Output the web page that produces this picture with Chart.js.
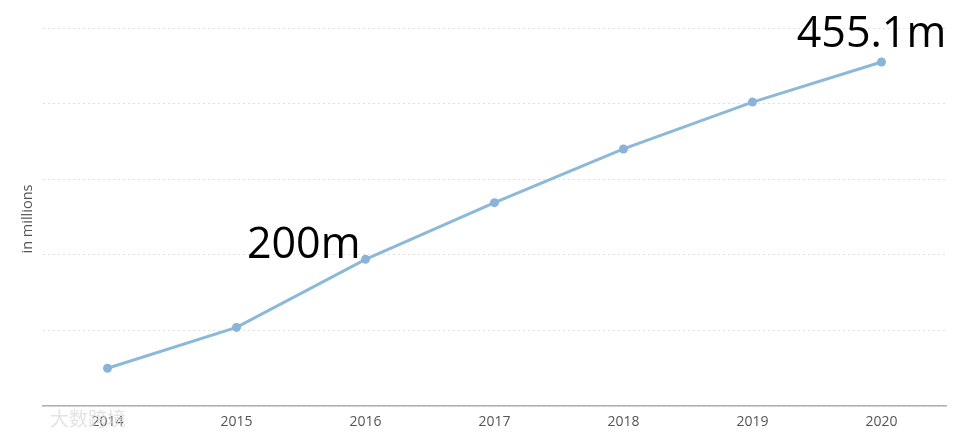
<!DOCTYPE html>
<html>
<head>
<meta charset="utf-8">
<script src="https://cdn.jsdelivr.net/npm/chart.js@4"></script>
<style>
  html, body { margin: 0; padding: 0; background: #fff; }
  #wrap { width: 962px; height: 436px; }
</style>
</head>
<body>
<div id="wrap"><canvas id="myChart" width="962" height="436"></canvas></div>
<script>
const years = ["2014", "2015", "2016", "2017", "2018", "2019", "2020"];
const users = [50, 104, 194, 269, 340, 402, 455.1];
const callouts = ["", "", "200m", "", "", "", "455.1m"];
const yTitle = "in millions";
const watermark = "大数跨境";

// textos grandes em cima dos pontos + titulo do eixo y
const extras = {
  id: "extras",
  afterDatasetsDraw(chart) {
    const ctx = chart.ctx;
    const meta = chart.getDatasetMeta(0);
    ctx.save();
    ctx.fillStyle = "#000";
    ctx.font = "43px 'Open Sans'";
    ctx.textBaseline = "alphabetic";
    callouts.forEach((txt, i) => {
      if (!txt) return;
      const p = meta.data[i];
      if (i === callouts.length - 1) {
        ctx.textAlign = "center";
        ctx.fillText(txt, p.x - 10, p.y - 15);
      } else {
        ctx.textAlign = "right";
        ctx.fillText(txt, p.x - 5, p.y - 1);
      }
    });

    ctx.fillStyle = "#555";
    ctx.font = "14.5px 'Open Sans'";
    ctx.textAlign = "center";
    ctx.textBaseline = "middle";
    ctx.translate(28, (chart.chartArea.top + chart.chartArea.bottom) / 2 + 2);
    ctx.rotate(-Math.PI / 2);
    ctx.fillText(yTitle, 0, 0);
    ctx.restore();

    // marca d'agua
    ctx.save();
    ctx.font = "19px 'Noto Sans CJK SC'";
    ctx.fillStyle = "rgba(220,220,220,0.8)";
    ctx.textAlign = "left";
    ctx.textBaseline = "middle";
    ctx.fillText(watermark, 50, 419);
    ctx.restore();
  }
};

var ctx = document.getElementById("myChart").getContext("2d");
var chart = new Chart(ctx, {
  type: "line",
  data: {
    labels: years,
    datasets: [
      {
        data: users,
        borderColor: "#8cb9d8",
        backgroundColor: "#8ab3da",
        borderWidth: 3,
        pointRadius: 4.5,
        pointBorderWidth: 0,
        pointBackgroundColor: "#8ab3da",
        tension: 0,
      },
    ],
  },
  options: {
    responsive: false,
    animation: false,
    layout: { padding: { left: 43, right: 16, top: 28, bottom: 0 } },
    plugins: { legend: { display: false }, tooltip: { enabled: false } },
    scales: {
      x: {
        offset: true,
        grid: { display: false, drawTicks: false },
        border: { display: true, color: "#b0b0b0", width: 1.5 },
        ticks: { color: "#555", font: { family: "'Open Sans'", size: 14 }, padding: 8 },
        afterFit: function (scale) { scale.height = 30; },
      },
      y: {
        min: 0,
        max: 500,
        ticks: { display: false, stepSize: 100 },
        grid: { color: "#e0e0e0", drawTicks: false, lineWidth: 1 },
        border: { display: false, dash: [2, 3] },
        afterFit: function (scale) { scale.width = 0; },
      },
    },
  },
  plugins: [extras],
});
</script>
</body>
</html>
